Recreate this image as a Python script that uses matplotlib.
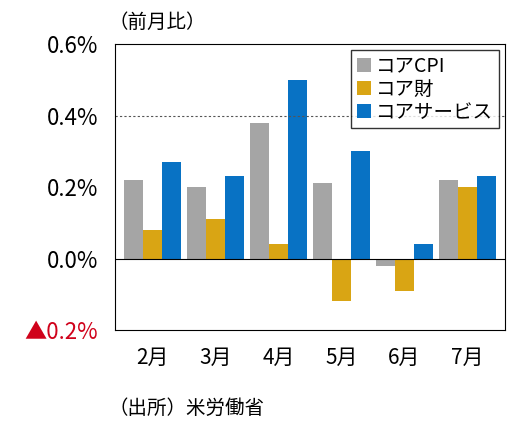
import matplotlib
matplotlib.use("Agg")
import matplotlib.pyplot as plt
import numpy as np

plt.rcParams['font.family'] = ['Noto Sans CJK JP', 'DejaVu Sans']

months = ["2月", "3月", "4月", "5月", "6月", "7月"]
core_cpi = [0.22, 0.20, 0.38, 0.21, -0.02, 0.22]
core_goods = [0.08, 0.11, 0.04, -0.12, -0.09, 0.20]
core_services = [0.27, 0.23, 0.50, 0.30, 0.04, 0.23]
yticks = [-0.2, 0.0, 0.2, 0.4, 0.6]
ylabels = ["▲0.2%", "0.0%", "0.2%", "0.4%", "0.6%"]

fig = plt.figure(figsize=(5.3, 4.36), dpi=100)
ax = fig.add_axes([0.217, 0.243, 0.736, 0.656])
x = np.arange(len(months))
w = 0.3
ax.bar(x - w, core_cpi, w, color="#a5a5a5", label="コアCPI")
ax.bar(x, core_goods, w, color="#d9a514", label="コア財")
ax.bar(x + w, core_services, w, color="#0872c4", label="コアサービス")
ax.axhline(0, color="black", lw=0.8)
ax.axhline(0.4, color="#555555", lw=0.8, ls=(0, (2, 2)))
ax.set_ylim(-0.2, 0.6)
ax.set_xlim(-0.6, 5.6)
ax.set_yticks(yticks)
ax.set_yticklabels(ylabels, fontsize=16)
ax.get_yticklabels()[0].set_color("#d0021b")
ax.set_xticks(x)
ax.set_xticklabels(months, fontsize=15)
ax.tick_params(length=0, pad=12)
for s in ax.spines.values():
    s.set_linewidth(0.8)
ax.legend(loc="upper right", fontsize=14, frameon=True, fancybox=False,
          edgecolor="black", handlelength=0.7, handletextpad=0.3,
          labelspacing=0.1, borderpad=0.3, borderaxespad=0.3)
fig.text(0.205, 0.935, "（前月比）", fontsize=14)
fig.text(0.205, 0.05, "（出所）米労働省", fontsize=14)
fig.savefig("out.png", dpi=100)
